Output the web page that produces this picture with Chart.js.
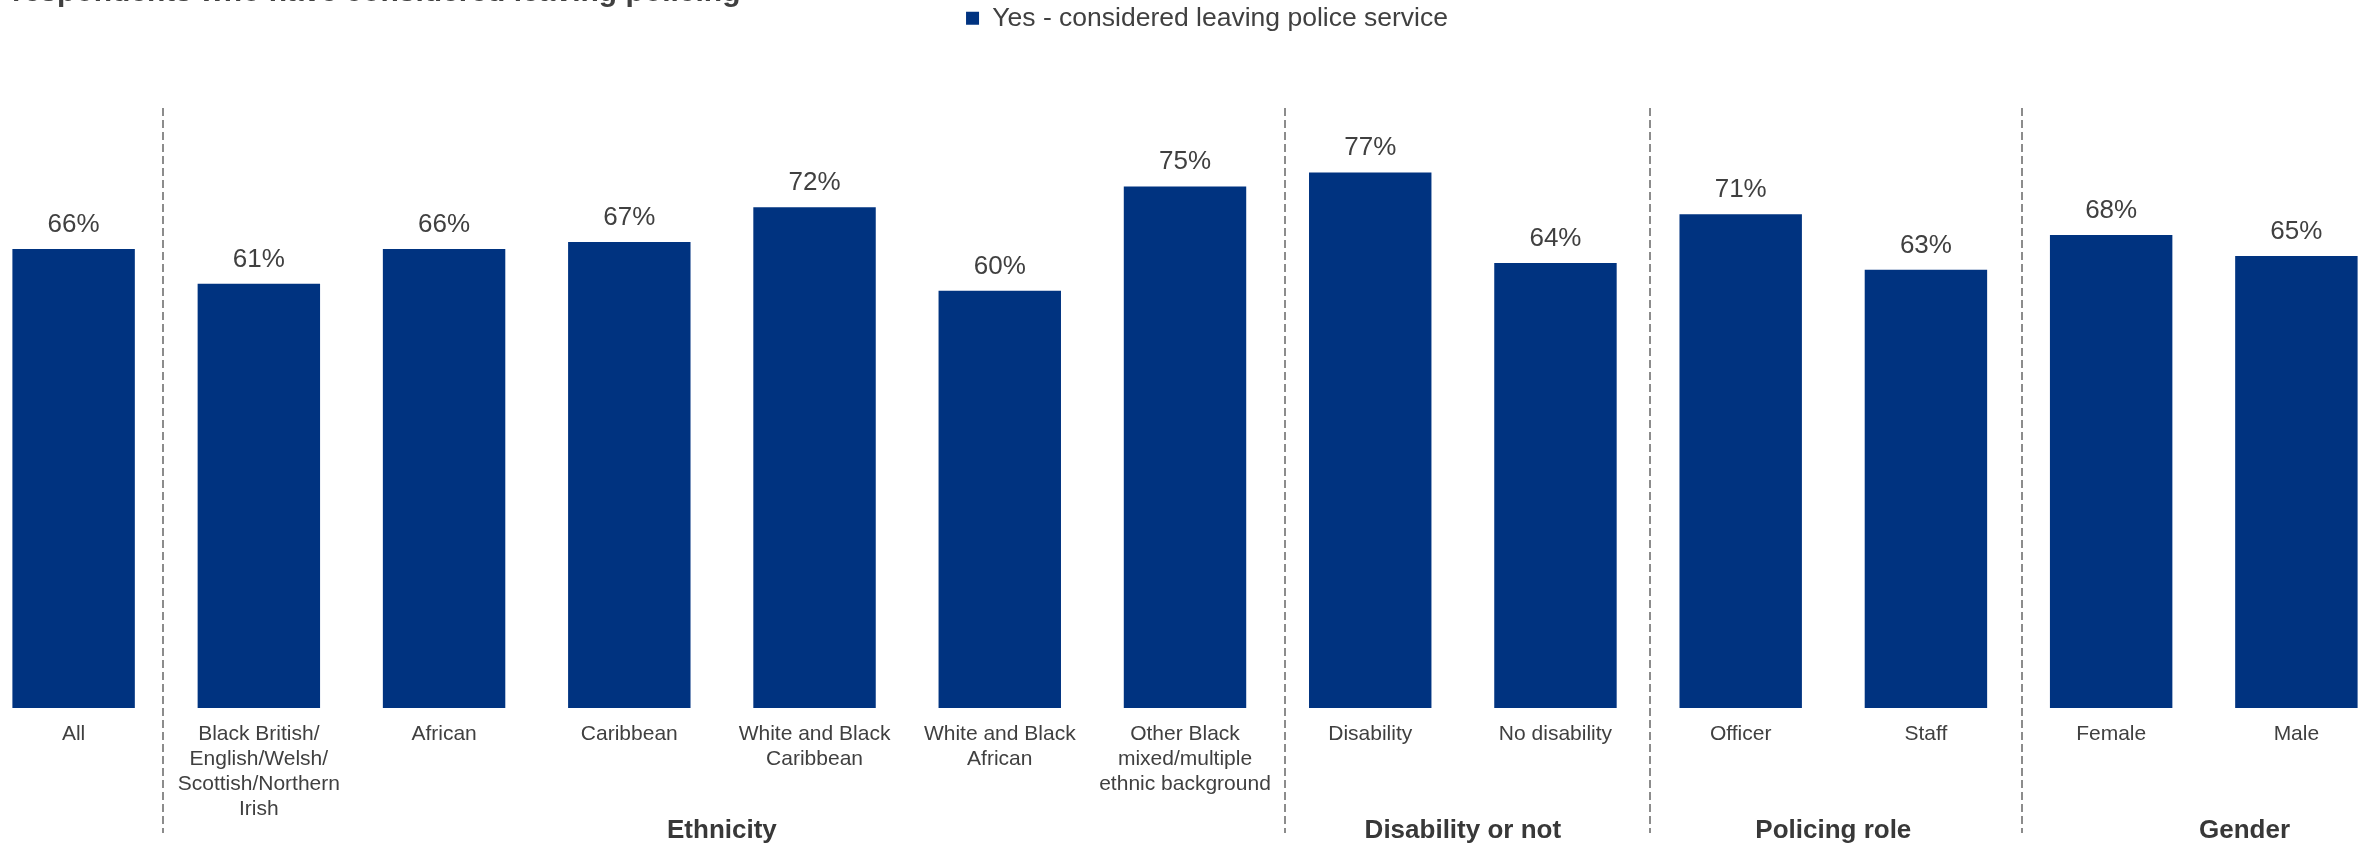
<!DOCTYPE html>
<html><head><meta charset="utf-8">
<script src="https://cdn.jsdelivr.net/npm/chart.js@4/dist/chart.umd.min.js"></script>
<style>
html,body{margin:0;padding:0;width:2364px;height:845px;overflow:hidden;background:#fff;}
#wrap{position:absolute;left:-19px;top:0;width:2408px;height:845px;}
#title{position:absolute;left:12px;top:-24px;font:bold 30px/30px "Liberation Sans",Arial,sans-serif;color:#404040;white-space:nowrap;z-index:2;}
</style></head><body>
<div id="title">respondents who have considered leaving policing</div>
<div id="wrap"><canvas id="c"></canvas></div>
<script>
// ---- data ----
const categories = [
  'All',
  ['Black British/', 'English/Welsh/', 'Scottish/Northern', 'Irish'],
  'African',
  'Caribbean',
  ['White and Black', 'Caribbean'],
  ['White and Black', 'African'],
  ['Other Black', 'mixed/multiple', 'ethnic background'],
  'Disability',
  'No disability',
  'Officer',
  'Staff',
  'Female',
  'Male'
];
const seriesName = 'Yes - considered leaving police service';
const values = [66, 61, 66, 67, 72, 60, 75, 77, 64, 71, 63, 68, 65];
const groupNames = ['Ethnicity', 'Disability or not', 'Policing role', 'Gender'];

// ---- layout (category-index units) ----
const groupCenters = [3.5, 7.5, 9.5, 11.72];
const separatorPositions = [0.48, 6.54, 8.51, 10.52];

const FONT = '"Liberation Sans", Arial, sans-serif';
const TEXT = '#404040';
const BAR = '#003380';
const BASE_Y = 708;           // pixel of the zero line
const PX_PER_UNIT = 6.955;    // pixels per percentage point

Chart.defaults.font.family = FONT;
Chart.defaults.color = TEXT;

const valueLabels = {
  id: 'valueLabels',
  afterDatasetsDraw(chart) {
    const ctx = chart.ctx;
    const meta = chart.getDatasetMeta(0);
    ctx.save();
    ctx.font = '26px ' + FONT;
    ctx.fillStyle = TEXT;
    ctx.textAlign = 'center';
    ctx.textBaseline = 'alphabetic';
    meta.data.forEach((bar, i) => {
      ctx.fillText(values[i] + '%', bar.x, bar.y - 17);
    });
    ctx.restore();
  }
};

const groups = {
  id: 'groups',
  afterDraw(chart) {
    const ctx = chart.ctx;
    const xs = chart.scales.x;
    ctx.save();
    ctx.strokeStyle = '#8c8c8c';
    ctx.lineWidth = 2;
    ctx.setLineDash([8, 4]);
    separatorPositions.forEach(p => {
      const x = Math.round(xs.getPixelForValue(p));
      ctx.beginPath();
      ctx.moveTo(x, 108);
      ctx.lineTo(x, 833);
      ctx.stroke();
    });
    ctx.setLineDash([]);
    ctx.font = 'bold 26px ' + FONT;
    ctx.fillStyle = '#383838';
    ctx.textAlign = 'center';
    ctx.textBaseline = 'alphabetic';
    groupNames.forEach((g, i) => {
      ctx.fillText(g, xs.getPixelForValue(groupCenters[i]), 838);
    });
    ctx.restore();
  }
};

const legendShift = {
  id: 'legendShift',
  afterLayout(chart) {
    if (chart.legend) { chart.legend.left += 22; chart.legend.right += 22; }
  }
};

const chart = new Chart(document.getElementById('c'), {
  type: 'bar',
  data: {
    labels: categories,
    datasets: [{
      label: seriesName,
      data: values,
      backgroundColor: BAR,
      borderWidth: 0,
      categoryPercentage: 1,
      barPercentage: 0.661
    }]
  },
  options: {
    responsive: true,
    maintainAspectRatio: false,
    animation: false,
    layout: { padding: { top: 0, left: 0, right: 0, bottom: 20 } },
    plugins: {
      legend: {
        display: true,
        position: 'top',
        labels: {
          boxWidth: 13, boxHeight: 13, padding: 5,
          color: TEXT,
          font: { size: 26.5, family: FONT }
        }
      },
      tooltip: { enabled: false }
    },
    scales: {
      x: {
        grid: { display: false, drawTicks: false },
        border: { display: false },
        ticks: {
          autoSkip: false, maxRotation: 0, minRotation: 0,
          padding: 13.5,
          color: TEXT,
          font: { size: 21, family: FONT, lineHeight: 25 / 21 }
        }
      },
      y: {
        display: false,
        min: 0,
        max: 100
      }
    }
  },
  plugins: [valueLabels, groups, legendShift]
});

for (let k = 0; k < 3; k++) {
  chart.options.layout.padding.bottom += (chart.chartArea.bottom - BASE_Y);
  chart.update();
  chart.options.scales.y.max = (BASE_Y - chart.chartArea.top) / PX_PER_UNIT;
  chart.update();
}
</script>
</body></html>
